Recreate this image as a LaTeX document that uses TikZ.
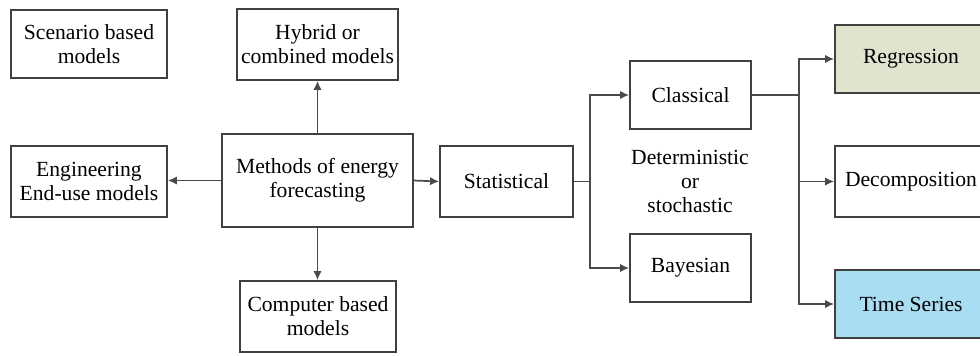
\documentclass[tikz,border=0pt]{standalone}
\usepackage{fontspec}
\setmainfont{Liberation Serif}
\usetikzlibrary{arrows.meta}
\definecolor{edgegray}{HTML}{4A4A4A}
\definecolor{boxgray}{HTML}{404040}
\definecolor{regfill}{HTML}{E1E3CF}
\definecolor{tsfill}{HTML}{A8DDF2}
\begin{document}
\begin{tikzpicture}[x=0.5pt,y=-0.5pt,
  box/.style={draw=boxgray, line width=0.9pt, inner sep=0pt, align=center,
    font=\fontsize{10.8}{12}\selectfont},
  wire/.style={draw=edgegray, line width=0.85pt},
  link/.style={wire, -{Latex[length=4.5pt,width=4.2pt]}}]
\clip (0,0) rectangle (980,355);
\fill[white] (0,0) rectangle (980,355);

% left part: the family of forecasting methods
\node[box, minimum width=78pt, minimum height=34pt] (scen) at (89,44) {Scenario based\\models};
\node[box, minimum width=80.5pt, minimum height=35.5pt] (hyb) at (317.5,44.5) {Hybrid or\\combined models};
\node[box, minimum width=78pt, minimum height=35.5pt] (eng) at (89,181.5) {Engineering\\End-use models};
\node[box, minimum width=95.5pt, minimum height=46.5pt] (meth) at (317.5,180.5) {Methods of energy\\forecasting};
\node[box, minimum width=78pt, minimum height=35.5pt] (comp) at (318,316.5) {Computer based\\models};

% statistical branch
\node[box, minimum width=66.5pt, minimum height=35.5pt] (stat) at (506.5,181.5) {Statistical};
\node[box, minimum width=60.5pt, minimum height=34pt] (clas) at (690.5,95) {Classical};
\node[box, minimum width=60.5pt, minimum height=34pt] (bay) at (690.5,268) {Bayesian};
\node[align=center, font=\fontsize{10.8}{12}\selectfont] (dos) at (690,181) {Deterministic\\or\\stochastic};

% classical techniques
\node[box, fill=regfill, minimum width=76pt, minimum height=34pt] (reg) at (911,59) {Regression};
\node[box, minimum width=76pt, minimum height=35.5pt] (dec) at (911,181.5) {Decomposition};
\node[box, fill=tsfill, minimum width=76pt, minimum height=34pt] (ts) at (911,304) {Time Series};

% connectors
\draw[link] (meth.west) -- (meth.west -| eng.east);
\draw[link] (meth.north) -- (meth.north |- hyb.south);
\draw[link] (meth.south) -- (meth.south |- comp.north);
\draw[link] (meth.east) -- (stat.west);

\coordinate (j1) at (590,181.5);
\draw[wire] (stat.east) -- (j1);
\draw[link] (j1) |- (clas.west);
\draw[link] (j1) |- (bay.west);

\coordinate (j2) at (799,95);
\draw[wire] (clas.east) -- (j2);
\draw[link] (j2) |- (reg.west);
\draw[link] (j2) |- (dec.west);
\draw[link] (j2) |- (ts.west);
\end{tikzpicture}
\end{document}
